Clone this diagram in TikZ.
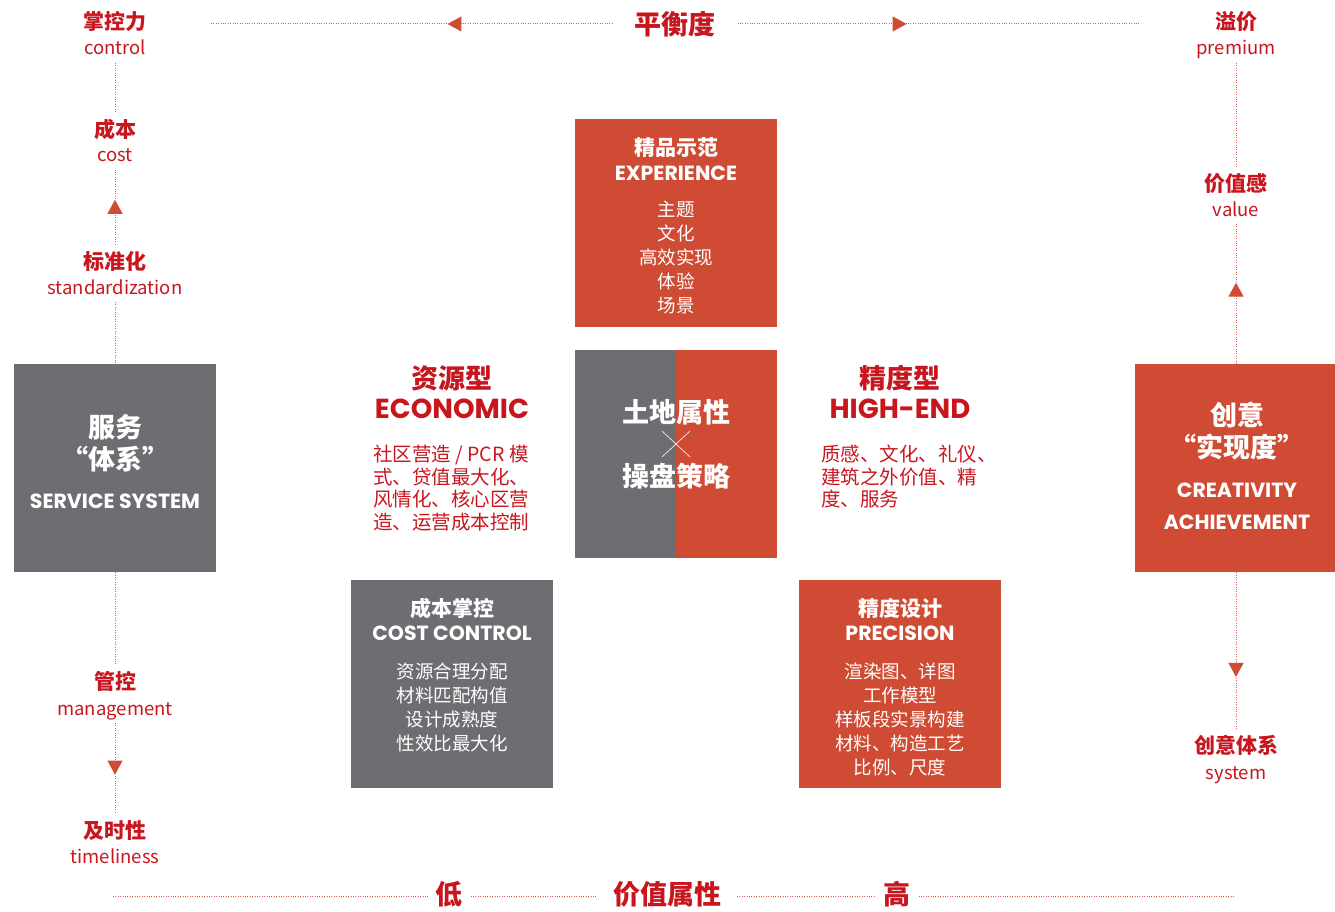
\documentclass[tikz,border=0pt]{standalone}
\usepackage{fontspec}
\setmainfont{Noto Sans CJK SC}
\newfontfamily\capsfont{Poppins}
\usepackage{tikz}
\usetikzlibrary{arrows.meta, decorations.markings}
\definecolor{txtred}{RGB}{200, 22, 30}
\definecolor{boxred}{RGB}{207, 75, 51}
\definecolor{boxgray}{RGB}{109, 110, 114}
\definecolor{dotred}{RGB}{222, 90, 80}

\begin{document}
\begin{tikzpicture}[x=1pt, y=-1pt,
    lblzh/.style={font=\fontsize{21}{24}\selectfont\bfseries, text=txtred, inner sep=0pt, outer sep=7pt, text height=18pt, text depth=1pt},
    lblen/.style={font=\fontsize{18.5}{22}\selectfont, text=txtred, inner sep=0pt, outer sep=7pt, text height=17pt, text depth=1pt},
    axislbl/.style={font=\fontsize{27}{30}\selectfont\bfseries, text=txtred, inner sep=0pt, outer sep=8pt},
    dotline/.style={dotred, line width=1pt, dash pattern=on 0.8pt off 1.6pt},
    midtip/.style={postaction={decorate}, decoration={markings, mark=at position #1 with {\arrow{Triangle[width=15pt, length=14pt, color=boxred]}}}},
    panel/.style={minimum width=202pt, minimum height=208pt, inner sep=0pt},
    bigzh/.style={font=\fontsize{27}{30}\selectfont\bfseries, inner sep=0pt},
    boxzh/.style={font=\fontsize{21}{24}\selectfont\bfseries, text=white, inner sep=0pt},
    capsen/.style={font=\capsfont\bfseries\fontsize{20.5}{24}\selectfont, inner sep=0pt},
    bigcaps/.style={font=\capsfont\bfseries\fontsize{27.5}{30}\selectfont, text=txtred, inner sep=0pt},
    boxbody/.style={font=\fontsize{18.5}{24}\selectfont, text=white, align=center, inner sep=0pt},
    parabody/.style={font=\fontsize{19.5}{22.6}\selectfont, text=txtred, align=left, inner sep=0pt, anchor=north west}]
    \useasboundingbox (0, 0) rectangle (1335, 912);

    % Top axis
    \node[axislbl, outer sep=22pt] (bal) at (675, 24) {平衡度};
    \coordinate (balL) at (210, 24);
    \coordinate (balR) at (1140, 24);
    \draw[dotline, midtip=0.41] (bal.west) -- (balL);
    \draw[dotline, midtip=0.42] (bal.east) -- (balR);

    % Bottom axis
    \node[axislbl] (low) at (449, 894) {低};
    \node[axislbl, outer sep=16pt] (vattr) at (667, 894) {价值属性};
    \node[axislbl] (high) at (897, 894) {高};
    \coordinate (botL) at (113, 896);
    \coordinate (botR) at (1235, 896);
    \draw[dotline] (botL) -- (botL -| low.west);
    \draw[dotline] (low.east |- botL) -- (botL -| vattr.west);
    \draw[dotline] (vattr.east |- botL) -- (botL -| high.west);
    \draw[dotline] (high.east |- botL) -- (botR);

    % Left column
    \node[lblzh] (ctlzh) at (115, 21) {掌控力};
    \node[lblen] (ctl) at (115, 47) {control};
    \node[lblzh] (costzh) at (115, 129) {成本};
    \node[lblen] (cost) at (115, 154) {cost};
    \node[lblzh] (stdzh) at (115, 261) {标准化};
    \node[lblen] (std) at (115, 286) {standardization};
    \node[panel, fill=boxgray] (svc) at (115, 468) {};
    \node[bigzh, text=white] at (115, 427) {服务};
    \node[bigzh, text=white] at (115, 459) {“体系”};
    \node[capsen, text=white] at (115, 501) {SERVICE SYSTEM};
    \node[lblzh] (mgtzh) at (115, 681) {管控};
    \node[lblen] (mgt) at (115, 707) {management};
    \node[lblzh] (timezh) at (115, 830) {及时性};
    \node[lblen] (time) at (115, 855) {timeliness};

    \draw[dotline] (ctl.south) -- (costzh.north);
    \draw[dotline, midtip=0.6] (stdzh.north) -- (cost.south);
    \draw[dotline] (std.south) -- (svc.north);
    \draw[dotline] (svc.south) -- (mgtzh.north);
    \draw[dotline, midtip=0.57] (mgt.south) -- (timezh.north);

    % Right column
    \node[lblzh] (premzh) at (1236, 21) {溢价};
    \node[lblen] (prem) at (1236, 47) {premium};
    \node[lblzh] (valzh) at (1236, 183) {价值感};
    \node[lblen] (val) at (1236, 208) {value};
    \node[panel, fill=boxred] (cre) at (1236, 468) {};
    \node[bigzh, text=white] at (1237, 415) {创意};
    \node[bigzh, text=white] at (1237, 447) {“实现度”};
    \node[capsen, text=white] at (1237, 490) {CREATIVITY};
    \node[capsen, text=white] at (1237, 522) {ACHIEVEMENT};
    \node[lblzh] (syszh) at (1236, 745) {创意体系};
    \node[lblen] (sys) at (1236, 771) {system};

    \draw[dotline] (prem.south) -- (valzh.north);
    \draw[dotline, midtip=0.58] (cre.north) -- (val.south);
    \draw[dotline, midtip=0.67] (cre.south) -- (syszh.north);

    % Experience
    \node[panel, fill=boxred] (exp) at (676, 223) {};
    \node[boxzh] at (676, 148) {精品示范};
    \node[capsen, text=white] at (676, 173) {EXPERIENCE};
    \node[boxbody] at (676, 258) {主题\\文化\\高效实现\\体验\\场景};

    % Core
    \node[panel, fill=boxgray] (core) at (676, 454) {};
    \fill[boxred] (core.north) rectangle (core.south east);
    \node[bigzh, text=white] at (676, 412) {土地属性};
    \draw[white, line width=0.6pt] (662, 431) -- (690, 457) (662, 457) -- (690, 431);
    \node[bigzh, text=white] at (676, 476) {操盘策略};

    % Economic
    \node[bigzh, text=txtred] at (452, 378) {资源型};
    \node[bigcaps] at (452, 409) {ECONOMIC};
    \node[parabody] at (373, 445) {社区营造 / PCR 模\\式、贷值最大化、\\风情化、核心区营\\造、运营成本控制};

    % High-end
    \node[bigzh, text=txtred] at (900, 378) {精度型};
    \node[bigcaps] at (900, 409) {HIGH-END};
    \node[parabody] at (821, 445) {质感、文化、礼仪、\\建筑之外价值、精\\度、服务};

    % Cost control
    \node[panel, fill=boxgray] (cst) at (452, 684) {};
    \node[boxzh] at (452, 608) {成本掌控};
    \node[capsen, text=white] at (452, 633) {COST CONTROL};
    \node[boxbody] at (452, 707) {资源合理分配\\材料匹配构值\\设计成熟度\\性效比最大化};

    % Precision
    \node[panel, fill=boxred] (prc) at (900, 684) {};
    \node[boxzh] at (900, 608) {精度设计};
    \node[capsen, text=white] at (900, 633) {PRECISION};
    \node[boxbody] at (900, 719) {渲染图、详图\\工作模型\\样板段实景构建\\材料、构造工艺\\比例、尺度};
\end{tikzpicture}
\end{document}
